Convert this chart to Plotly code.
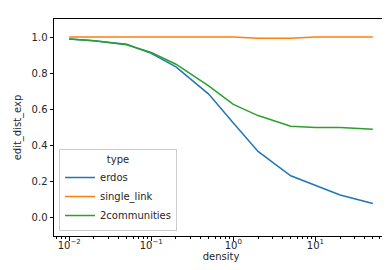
import plotly.graph_objects as go

density = [0.01, 0.02, 0.05, 0.1, 0.2, 0.5, 1, 2, 5, 10, 20, 50]
erdos = [0.99, 0.98, 0.96, 0.91, 0.835, 0.685, 0.525, 0.368, 0.233, 0.178, 0.127, 0.08]
single_link = [1.0, 1.0, 1.0, 1.0, 1.0, 1.0, 1.0, 0.993, 0.994, 1.0, 1.0, 1.0]
two_comm = [0.99, 0.98, 0.958, 0.915, 0.85, 0.73, 0.628, 0.566, 0.507, 0.5, 0.5, 0.49]

series_names = ["erdos", "single_link", "2communities"]
series_values = [erdos, single_link, two_comm]
colors = ["#1f77b4", "#ff7f0e", "#2ca02c"]

x_tickvals = [0.01, 0.1, 1, 10]
x_ticktext = ["10<sup>\u22122</sup>", "10<sup>\u22121</sup>", "10<sup>0</sup>", "10<sup>1</sup>"]
x_minor = [m * 10 ** e for e in range(-3, 2) for m in range(2, 10)]
y_tickvals = [0.0, 0.2, 0.4, 0.6, 0.8, 1.0]

fig = go.Figure()
for name, vals, c in zip(series_names, series_values, colors):
    fig.add_trace(go.Scatter(x=density, y=vals, mode="lines", name=name,
                             line=dict(color=c, width=1.5)))

font = dict(family="DejaVu Sans", size=10, color="#262626")
fig.update_layout(
    width=390, height=270,
    margin=dict(l=45, r=9, t=11, b=42),
    paper_bgcolor="white", plot_bgcolor="white",
    font=font,
    showlegend=True,
    legend=dict(x=0.015, y=0.023, xanchor="left", yanchor="bottom",
                bgcolor="rgba(255,255,255,0.8)", bordercolor="#cccccc", borderwidth=1,
                title=dict(text="type", side="top center", font=font),
                font=font, tracegroupgap=0, itemwidth=30),
)
fig.update_xaxes(
    type="log", range=[-2.185, 1.884],
    tickvals=x_tickvals, ticktext=x_ticktext,
    ticks="outside", ticklen=3.5, tickwidth=0.8, tickcolor="black",
    ticklabelstandoff=-4,
    minor=dict(tickvals=x_minor, ticks="outside", ticklen=2, tickwidth=0.6, tickcolor="black", showgrid=False),
    showline=True, linecolor="black", linewidth=1, mirror=True,
    showgrid=False, zeroline=False,
    title=dict(text="density", font=font, standoff=2),
)
fig.update_yaxes(
    range=[-0.1, 1.1],
    tickvals=y_tickvals, tickformat=".1f",
    ticks="outside", ticklen=3.5, tickwidth=0.8, tickcolor="black",
    showline=True, linecolor="black", linewidth=1, mirror=True,
    showgrid=False, zeroline=False,
    title=dict(text="edit_dist_exp", font=font, standoff=8),
)
fig.write_html("out.html")
